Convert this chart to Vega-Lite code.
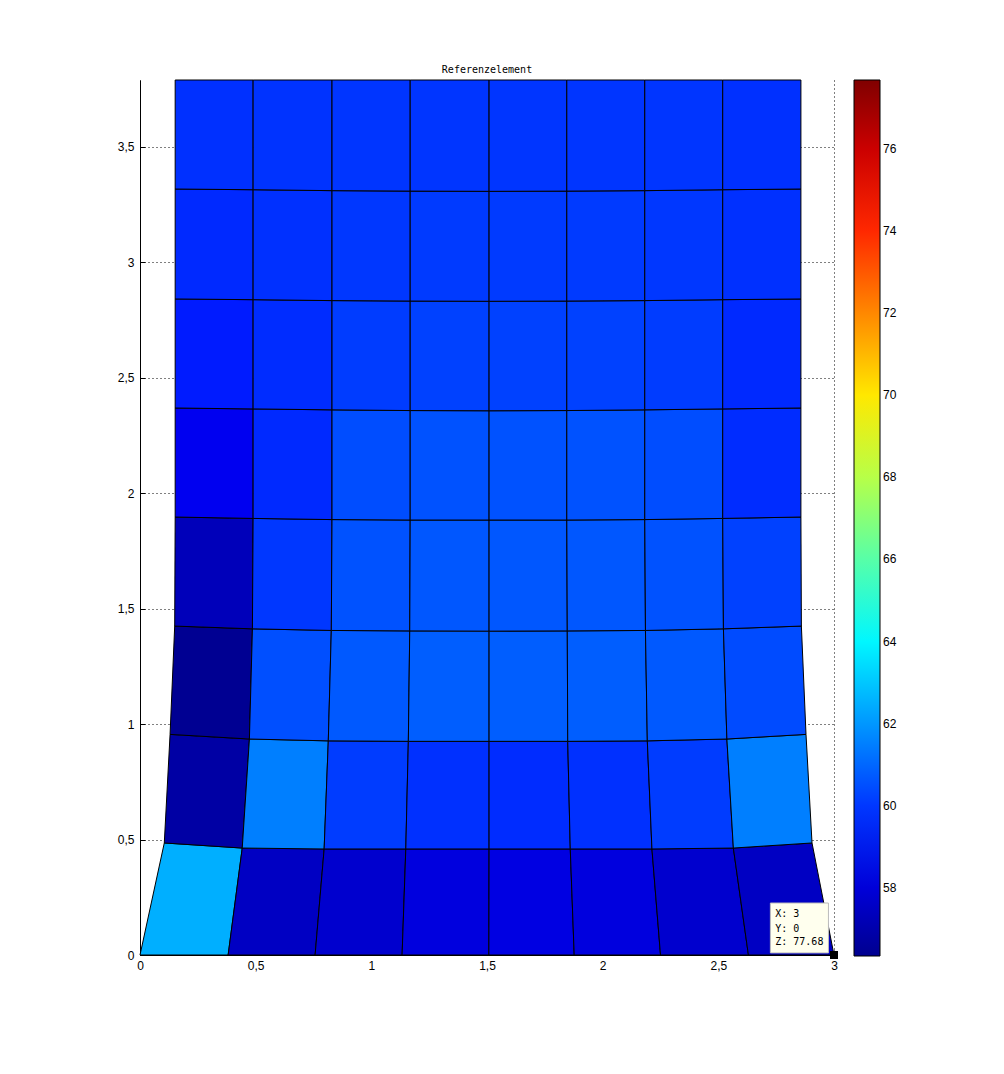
{
  "$schema": "https://vega.github.io/schema/vega-lite/v6.json",
  "autosize": "none",
  "padding": {"left": 140, "top": 80, "right": 170, "bottom": 119},
  "width": 694,
  "height": 875,
  "background": "white",
  "title": {"text": "Referenzelement", "font": "DejaVu Sans Mono", "fontSize": 10, "fontWeight": "normal", "color": "black", "offset": 3},
  "config": {
    "view": {"stroke": null},
    "axis": {"domainColor": "black", "tickColor": "black", "labelColor": "black", "labelFont": "Liberation Sans", "labelFontSize": 12, "gridColor": "black", "gridDash": [1, 3], "gridOpacity": 1, "gridWidth": 1, "title": null}
  },
  "datasets": {
    "nodes": [
      {"n": 0, "x": 0.0, "y": 0}, {"n": 1, "x": 0.381, "y": 0}, {"n": 2, "x": 0.757, "y": 0}, {"n": 3, "x": 1.133, "y": 0}, {"n": 4, "x": 1.508, "y": 0}, {"n": 5, "x": 1.877, "y": 0}, {"n": 6, "x": 2.25, "y": 0}, {"n": 7, "x": 2.63, "y": 0}, {"n": 8, "x": 3.0, "y": 0},
      {"n": 9, "x": 0.105, "y": 0.485}, {"n": 10, "x": 0.442, "y": 0.463}, {"n": 11, "x": 0.796, "y": 0.459}, {"n": 12, "x": 1.149, "y": 0.459}, {"n": 13, "x": 1.509, "y": 0.459}, {"n": 14, "x": 1.86, "y": 0.459}, {"n": 15, "x": 2.213, "y": 0.459}, {"n": 16, "x": 2.565, "y": 0.463}, {"n": 17, "x": 2.905, "y": 0.485},
      {"n": 18, "x": 0.13, "y": 0.955}, {"n": 19, "x": 0.473, "y": 0.935}, {"n": 20, "x": 0.814, "y": 0.927}, {"n": 21, "x": 1.16, "y": 0.925}, {"n": 22, "x": 1.509, "y": 0.925}, {"n": 23, "x": 1.849, "y": 0.925}, {"n": 24, "x": 2.193, "y": 0.927}, {"n": 25, "x": 2.537, "y": 0.935}, {"n": 26, "x": 2.879, "y": 0.955},
      {"n": 27, "x": 0.15, "y": 1.424}, {"n": 28, "x": 0.486, "y": 1.412}, {"n": 29, "x": 0.827, "y": 1.405}, {"n": 30, "x": 1.166, "y": 1.403}, {"n": 31, "x": 1.509, "y": 1.402}, {"n": 32, "x": 1.847, "y": 1.403}, {"n": 33, "x": 2.185, "y": 1.405}, {"n": 34, "x": 2.522, "y": 1.412}, {"n": 35, "x": 2.859, "y": 1.424},
      {"n": 36, "x": 0.152, "y": 1.896}, {"n": 37, "x": 0.489, "y": 1.89}, {"n": 38, "x": 0.83, "y": 1.885}, {"n": 39, "x": 1.168, "y": 1.883}, {"n": 40, "x": 1.509, "y": 1.883}, {"n": 41, "x": 1.845, "y": 1.883}, {"n": 42, "x": 2.182, "y": 1.885}, {"n": 43, "x": 2.519, "y": 1.89}, {"n": 44, "x": 2.857, "y": 1.896},
      {"n": 45, "x": 0.152, "y": 2.368}, {"n": 46, "x": 0.489, "y": 2.364}, {"n": 47, "x": 0.83, "y": 2.36}, {"n": 48, "x": 1.168, "y": 2.357}, {"n": 49, "x": 1.509, "y": 2.356}, {"n": 50, "x": 1.845, "y": 2.357}, {"n": 51, "x": 2.182, "y": 2.36}, {"n": 52, "x": 2.519, "y": 2.364}, {"n": 53, "x": 2.857, "y": 2.368},
      {"n": 54, "x": 0.152, "y": 2.84}, {"n": 55, "x": 0.489, "y": 2.837}, {"n": 56, "x": 0.83, "y": 2.833}, {"n": 57, "x": 1.168, "y": 2.831}, {"n": 58, "x": 1.509, "y": 2.83}, {"n": 59, "x": 1.845, "y": 2.831}, {"n": 60, "x": 2.182, "y": 2.833}, {"n": 61, "x": 2.519, "y": 2.837}, {"n": 62, "x": 2.857, "y": 2.84},
      {"n": 63, "x": 0.152, "y": 3.316}, {"n": 64, "x": 0.489, "y": 3.313}, {"n": 65, "x": 0.83, "y": 3.309}, {"n": 66, "x": 1.168, "y": 3.307}, {"n": 67, "x": 1.509, "y": 3.306}, {"n": 68, "x": 1.845, "y": 3.307}, {"n": 69, "x": 2.182, "y": 3.309}, {"n": 70, "x": 2.519, "y": 3.313}, {"n": 71, "x": 2.857, "y": 3.316},
      {"n": 72, "x": 0.152, "y": 3.788}, {"n": 73, "x": 0.489, "y": 3.788}, {"n": 74, "x": 0.83, "y": 3.788}, {"n": 75, "x": 1.168, "y": 3.788}, {"n": 76, "x": 1.509, "y": 3.788}, {"n": 77, "x": 1.845, "y": 3.788}, {"n": 78, "x": 2.182, "y": 3.788}, {"n": 79, "x": 2.519, "y": 3.788}, {"n": 80, "x": 2.857, "y": 3.788}
    ],
    "cells": [
      {"id": 0, "z": 62.5, "a": 0, "b": 1, "c": 10, "d": 9, "e": 0},
      {"id": 1, "z": 57.5, "a": 1, "b": 2, "c": 11, "d": 10, "e": 1},
      {"id": 2, "z": 57.75, "a": 2, "b": 3, "c": 12, "d": 11, "e": 2},
      {"id": 3, "z": 58.1, "a": 3, "b": 4, "c": 13, "d": 12, "e": 3},
      {"id": 4, "z": 58.2, "a": 4, "b": 5, "c": 14, "d": 13, "e": 4},
      {"id": 5, "z": 58.1, "a": 5, "b": 6, "c": 15, "d": 14, "e": 5},
      {"id": 6, "z": 57.75, "a": 6, "b": 7, "c": 16, "d": 15, "e": 6},
      {"id": 7, "z": 57.5, "a": 7, "b": 8, "c": 17, "d": 16, "e": 7},
      {"id": 8, "z": 56.8, "a": 9, "b": 10, "c": 19, "d": 18, "e": 9},
      {"id": 9, "z": 61.5, "a": 10, "b": 11, "c": 20, "d": 19, "e": 10},
      {"id": 10, "z": 60.1, "a": 11, "b": 12, "c": 21, "d": 20, "e": 11},
      {"id": 11, "z": 59.85, "a": 12, "b": 13, "c": 22, "d": 21, "e": 12},
      {"id": 12, "z": 59.75, "a": 13, "b": 14, "c": 23, "d": 22, "e": 13},
      {"id": 13, "z": 59.85, "a": 14, "b": 15, "c": 24, "d": 23, "e": 14},
      {"id": 14, "z": 60.1, "a": 15, "b": 16, "c": 25, "d": 24, "e": 15},
      {"id": 15, "z": 61.5, "a": 16, "b": 17, "c": 26, "d": 25, "e": 16},
      {"id": 16, "z": 56.4, "a": 18, "b": 19, "c": 28, "d": 27, "e": 18},
      {"id": 17, "z": 60.5, "a": 19, "b": 20, "c": 29, "d": 28, "e": 19},
      {"id": 18, "z": 60.7, "a": 20, "b": 21, "c": 30, "d": 29, "e": 20},
      {"id": 19, "z": 60.8, "a": 21, "b": 22, "c": 31, "d": 30, "e": 21},
      {"id": 20, "z": 60.8, "a": 22, "b": 23, "c": 32, "d": 31, "e": 22},
      {"id": 21, "z": 60.8, "a": 23, "b": 24, "c": 33, "d": 32, "e": 23},
      {"id": 22, "z": 60.7, "a": 24, "b": 25, "c": 34, "d": 33, "e": 24},
      {"id": 23, "z": 60.4, "a": 25, "b": 26, "c": 35, "d": 34, "e": 25},
      {"id": 24, "z": 57.3, "a": 27, "b": 28, "c": 37, "d": 36, "e": 27},
      {"id": 25, "z": 60.0, "a": 28, "b": 29, "c": 38, "d": 37, "e": 28},
      {"id": 26, "z": 60.55, "a": 29, "b": 30, "c": 39, "d": 38, "e": 29},
      {"id": 27, "z": 60.65, "a": 30, "b": 31, "c": 40, "d": 39, "e": 30},
      {"id": 28, "z": 60.65, "a": 31, "b": 32, "c": 41, "d": 40, "e": 31},
      {"id": 29, "z": 60.65, "a": 32, "b": 33, "c": 42, "d": 41, "e": 32},
      {"id": 30, "z": 60.55, "a": 33, "b": 34, "c": 43, "d": 42, "e": 33},
      {"id": 31, "z": 60.2, "a": 34, "b": 35, "c": 44, "d": 43, "e": 34},
      {"id": 32, "z": 58.5, "a": 36, "b": 37, "c": 46, "d": 45, "e": 36},
      {"id": 33, "z": 59.7, "a": 37, "b": 38, "c": 47, "d": 46, "e": 37},
      {"id": 34, "z": 60.45, "a": 38, "b": 39, "c": 48, "d": 47, "e": 38},
      {"id": 35, "z": 60.55, "a": 39, "b": 40, "c": 49, "d": 48, "e": 39},
      {"id": 36, "z": 60.55, "a": 40, "b": 41, "c": 50, "d": 49, "e": 40},
      {"id": 37, "z": 60.55, "a": 41, "b": 42, "c": 51, "d": 50, "e": 41},
      {"id": 38, "z": 60.45, "a": 42, "b": 43, "c": 52, "d": 51, "e": 42},
      {"id": 39, "z": 59.75, "a": 43, "b": 44, "c": 53, "d": 52, "e": 43},
      {"id": 40, "z": 59.4, "a": 45, "b": 46, "c": 55, "d": 54, "e": 45},
      {"id": 41, "z": 59.75, "a": 46, "b": 47, "c": 56, "d": 55, "e": 46},
      {"id": 42, "z": 60.1, "a": 47, "b": 48, "c": 57, "d": 56, "e": 47},
      {"id": 43, "z": 60.2, "a": 48, "b": 49, "c": 58, "d": 57, "e": 48},
      {"id": 44, "z": 60.2, "a": 49, "b": 50, "c": 59, "d": 58, "e": 49},
      {"id": 45, "z": 60.2, "a": 50, "b": 51, "c": 60, "d": 59, "e": 50},
      {"id": 46, "z": 60.1, "a": 51, "b": 52, "c": 61, "d": 60, "e": 51},
      {"id": 47, "z": 59.7, "a": 52, "b": 53, "c": 62, "d": 61, "e": 52},
      {"id": 48, "z": 59.7, "a": 54, "b": 55, "c": 64, "d": 63, "e": 54},
      {"id": 49, "z": 59.85, "a": 55, "b": 56, "c": 65, "d": 64, "e": 55},
      {"id": 50, "z": 60.0, "a": 56, "b": 57, "c": 66, "d": 65, "e": 56},
      {"id": 51, "z": 60.05, "a": 57, "b": 58, "c": 67, "d": 66, "e": 57},
      {"id": 52, "z": 60.05, "a": 58, "b": 59, "c": 68, "d": 67, "e": 58},
      {"id": 53, "z": 60.05, "a": 59, "b": 60, "c": 69, "d": 68, "e": 59},
      {"id": 54, "z": 60.0, "a": 60, "b": 61, "c": 70, "d": 69, "e": 60},
      {"id": 55, "z": 59.85, "a": 61, "b": 62, "c": 71, "d": 70, "e": 61},
      {"id": 56, "z": 59.85, "a": 63, "b": 64, "c": 73, "d": 72, "e": 63},
      {"id": 57, "z": 59.9, "a": 64, "b": 65, "c": 74, "d": 73, "e": 64},
      {"id": 58, "z": 59.95, "a": 65, "b": 66, "c": 75, "d": 74, "e": 65},
      {"id": 59, "z": 59.95, "a": 66, "b": 67, "c": 76, "d": 75, "e": 66},
      {"id": 60, "z": 59.95, "a": 67, "b": 68, "c": 77, "d": 76, "e": 67},
      {"id": 61, "z": 59.95, "a": 68, "b": 69, "c": 78, "d": 77, "e": 68},
      {"id": 62, "z": 59.95, "a": 69, "b": 70, "c": 79, "d": 78, "e": 69},
      {"id": 63, "z": 59.85, "a": 70, "b": 71, "c": 80, "d": 79, "e": 70}
    ],
    "tipbox": [{"x1": 2.725, "x2": 2.976, "y1": 0.009, "y2": 0.225}],
    "tiptext": [
      {"label": "X: 3", "x": 2.746, "y": 0.177},
      {"label": "Y: 0", "x": 2.746, "y": 0.113},
      {"label": "Z: 77.68", "x": 2.746, "y": 0.056}
    ],
    "tippoint": [{"x": 3, "y": 0}]
  },
  "layer": [
    {
      "data": {"name": "cells"},
      "transform": [
        {"fold": ["a", "b", "c", "d", "e"], "as": ["k", "n"]},
        {"lookup": "n", "from": {"data": {"name": "nodes"}, "key": "n", "fields": ["x", "y"]}}
      ],
      "mark": {"type": "line", "filled": true, "stroke": "black", "strokeWidth": 1, "strokeOpacity": 1},
      "encoding": {
        "x": {"field": "x", "type": "quantitative", "scale": {"domain": [0, 3], "nice": false, "zero": false},
              "axis": {"values": [0, 0.5, 1, 1.5, 2, 2.5, 3], "format": "~g", "labelExpr": "replace(datum.label, '.', ',')", "grid": true, "tickSize": -5, "labelPadding": 10, "labelFlush": false}},
        "y": {"field": "y", "type": "quantitative", "scale": {"domain": [0, 3.788], "nice": false, "zero": false},
              "axis": {"values": [0, 0.5, 1, 1.5, 2, 2.5, 3, 3.5], "format": "~g", "labelExpr": "replace(datum.label, '.', ',')", "grid": true, "tickSize": -5, "labelPadding": 11}},
        "detail": {"field": "id", "type": "nominal"},
        "order": {"field": "k", "type": "ordinal"},
        "color": {"field": "z", "type": "quantitative",
                  "scale": {"domain": [56.34, 58.84, 64.17, 69.51, 74.84, 77.68], "range": ["#00008f", "#0000ff", "#00ffff", "#ffff00", "#ff0000", "#800000"], "interpolate": "rgb"},
                  "legend": {"title": null, "orient": "none", "legendX": 714, "legendY": 0, "padding": 0, "offset": 0,
                             "gradientLength": 876, "gradientThickness": 26, "gradientStrokeColor": "black", "gradientStrokeWidth": 1,
                             "values": [58, 60, 62, 64, 66, 68, 70, 72, 74, 76], "labelOverlap": false,
                             "labelFont": "Liberation Sans", "labelFontSize": 12, "labelColor": "black", "labelOffset": 3}}
      }
    },
    {
      "data": {"name": "tipbox"},
      "mark": {"type": "rect", "fill": "#ffffee", "stroke": "#bbbbbb", "strokeWidth": 1},
      "encoding": {
        "x": {"field": "x1", "type": "quantitative"},
        "x2": {"field": "x2"},
        "y": {"field": "y1", "type": "quantitative"},
        "y2": {"field": "y2"}
      }
    },
    {
      "data": {"name": "tiptext"},
      "mark": {"type": "text", "align": "left", "baseline": "middle", "font": "DejaVu Sans Mono", "fontSize": 10, "color": "black"},
      "encoding": {
        "x": {"field": "x", "type": "quantitative"},
        "y": {"field": "y", "type": "quantitative"},
        "text": {"field": "label"}
      }
    },
    {
      "data": {"name": "tippoint"},
      "mark": {"type": "point", "shape": "square", "filled": true, "color": "black", "size": 64, "opacity": 1},
      "encoding": {
        "x": {"field": "x", "type": "quantitative"},
        "y": {"field": "y", "type": "quantitative"}
      }
    }
  ]
}
